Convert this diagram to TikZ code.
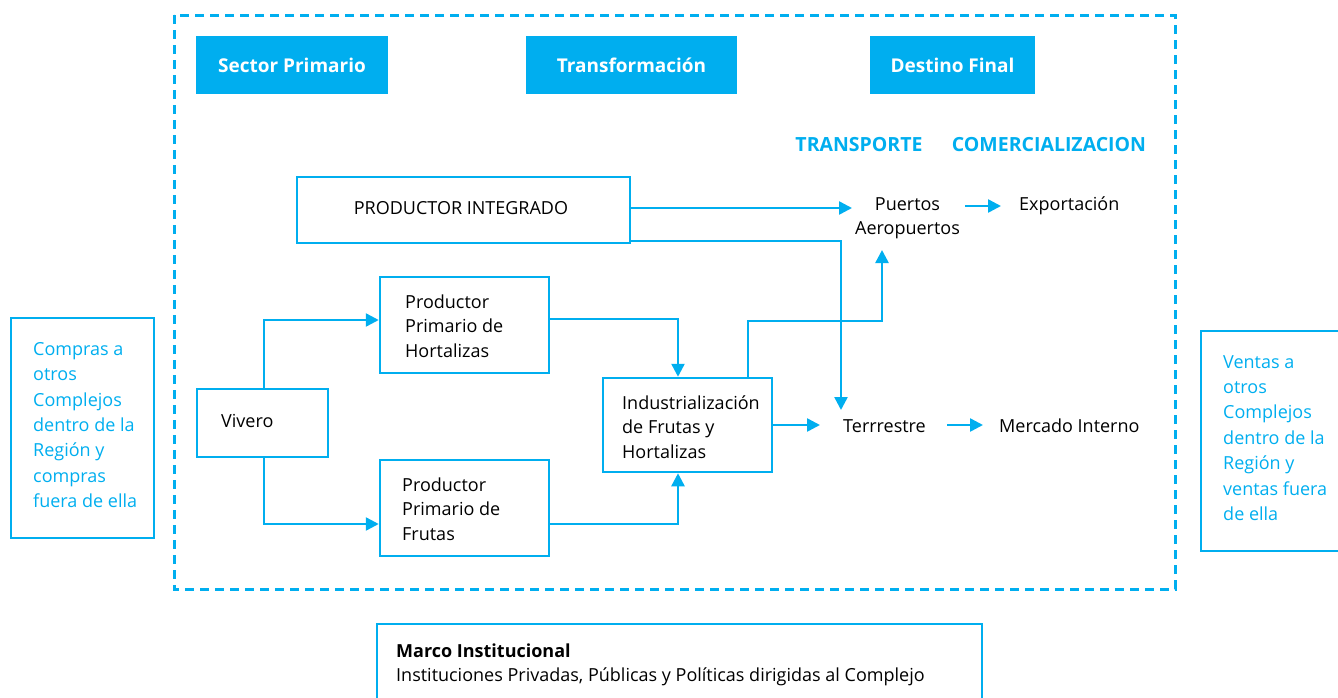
\documentclass[tikz,border=0pt]{standalone}
\usepackage{fontspec}
\setmainfont{Open Sans}
\usetikzlibrary{arrows.meta,calc}
\definecolor{cy}{RGB}{0,174,239}
\begin{document}
\begin{tikzpicture}[x=1pt,y=-1pt,
  box/.style={draw=cy,line width=2.5pt,inner sep=0pt,rectangle},
  head/.style={fill=cy,inner sep=0pt,text=white,font=\fontsize{19}{22}\selectfont\bfseries},
  txt/.style={inner sep=0pt,align=left,anchor=west,font=\fontsize{18}{24.5}\selectfont},
  ctxt/.style={inner sep=0pt,align=left,anchor=west,text=cy,font=\fontsize{18}{25.4}\selectfont},
  lab/.style={inner sep=0pt,text=cy,font=\fontsize{19.5}{22}\selectfont\bfseries},
  arr/.style={draw=cy,line width=2.5pt,-{Triangle[length=13pt,width=13pt]}},
  ln/.style={draw=cy,line width=2.5pt}]
\useasboundingbox (0,0) rectangle (1338,697);
\clip (0,0) rectangle (1338,697);
% outer dashed frame
\draw[cy,line width=3pt,dash pattern=on 9pt off 6pt] (174,15) rectangle (1175,589);
% headers
\node[head,minimum width=192,minimum height=58] (h1) at (292,65) {Sector Primario};
\node[head,minimum width=211,minimum height=58] (h2) at (631.5,65) {Transformación};
\node[head,minimum width=165,minimum height=58] (h3) at (952.5,65) {Destino Final};
\node[lab] (ltr) at (859,145) {TRANSPORTE};
\node[lab] (lcom) at (1049,145) {COMERCIALIZACION};
% boxes
\node[box,minimum width=333,minimum height=66] (pi) at (463.5,210) {};
\node[txt,anchor=center] (pit) at (461,208) {PRODUCTOR INTEGRADO};
\node[box,minimum width=169,minimum height=96] (pph) at (464.5,325) {};
\node[txt] (ppht) at (405,326) {Productor\\Primario de\\Hortalizas};
\node[box,minimum width=169,minimum height=96] (ppf) at (464.5,508) {};
\node[txt] (ppft) at (402,509) {Productor\\Primario de\\Frutas};
\node[box,minimum width=131,minimum height=68] (viv) at (262.5,423) {};
\node[txt] (vivt) at (221,421) {Vivero};
\node[box,minimum width=169,minimum height=94] (ind) at (687.5,425) {};
\node[txt] (indt) at (622,427) {Industrialización\\de Frutas y\\Hortalizas};
% destinations
\node[txt,anchor=center,align=center] (pue) at (907.5,218) {Puertos\\Aeropuertos};
\node[txt] (exp) at (1019,206) {Exportación};
\node[txt] (ter) at (843,426) {Terrrestre};
\node[txt] (mer) at (999,426) {Mercado Interno};
% side boxes
\node[box,minimum width=143,minimum height=220] (lb) at (82.5,428) {};
\node[ctxt] (lbt) at (33,425) {Compras a\\otros\\Complejos\\dentro de la\\Región y\\compras\\fuera de ella};
\node[box,minimum width=160,minimum height=220] (rb) at (1281,441) {};
\node[ctxt] (rbt) at (1223,438) {Ventas a\\otros\\Complejos\\dentro de la\\Región y\\ventas fuera\\de ella};
% bottom box
\node[box,minimum width=605,minimum height=120] (mb) at (679.5,684) {};
\node[txt,font=\fontsize{18}{24.5}\selectfont\bfseries] (mbt1) at (396,651) {Marco Institucional};
\node[txt] (mbt2) at (396,677) {Instituciones Privadas, Públicas y Políticas dirigidas al Complejo};
% connectors
\draw[arr] (pi.east |- 0,208) -- (852,208);
\coordinate (c1) at (841,241);
\coordinate (c1e) at (841,410);
\draw[arr] (pi.east |- c1) -- (c1) -- (c1e);
\coordinate (c2) at (748,321);
\coordinate (c3) at (882,321);
\draw[arr] (ind.north -| c2) -- (c2) -- (c3) -- (882,250);
\draw[arr] (ind.east) -- (820,425);
\draw[arr] (965,206) -- (1001,206);
\draw[arr] (947,425) -- (983,425);
\coordinate (c4) at (678,319);
\draw[arr] (pph.east |- c4) -- (c4) -- (ind.north -| c4);
\coordinate (c5) at (678,524);
\draw[arr] (ppf.east |- c5) -- (c5) -- (ind.south -| c5);
\coordinate (c6) at (264,320);
\draw[arr] (viv.north -| c6) -- (c6) -- (pph.west |- c6);
\coordinate (c7) at (264,524);
\draw[arr] (viv.south -| c7) -- (c7) -- (ppf.west |- c7);
\end{tikzpicture}
\end{document}
